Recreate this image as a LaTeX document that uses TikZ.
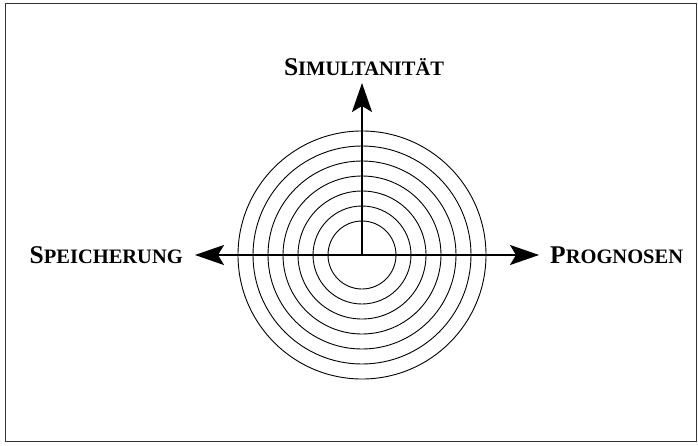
\documentclass[tikz,border=0pt]{standalone}
\usepackage{fontspec}
\setmainfont{Liberation Serif}
\usetikzlibrary{arrows.meta,positioning}
\newcommand{\capword}[2]{#1{\fontsize{20.5}{20.5}\selectfont #2}}
\tikzset{
  frame/.style={draw=black!80,line width=1pt},
  ring/.style={draw=black,line width=0.9pt},
  axisarrow/.style={-{Stealth[length=29pt,width=20pt,inset=6pt]},line width=2pt,black},
  axislabel/.style={font=\fontsize{25.5}{25.5}\selectfont\bfseries,inner sep=0pt}
}
\begin{document}
\begin{tikzpicture}[x=1pt,y=1pt]
      \useasboundingbox (0,0) rectangle (698,445);
      \draw[frame] (5.5,3.5) rectangle (696.5,441.5);
      % concentric rings
      \coordinate (centre) at (362,190);
      \foreach \r in {34,49,64,79,94,109,124}
        \draw[ring] (centre) circle (\r);
      % axes
      \coordinate (west) at (195,190);
      \coordinate (east) at (539,190);
      \coordinate (north) at (362,362);
      \draw[axisarrow] (centre) -- (west);
      \draw[axisarrow] (centre) -- (east);
      \draw[axisarrow] (centre) -- (north);
      \node[axislabel,left=12pt of west] (store) {\capword{S}{PEICHERUNG}};
      \node[axislabel,right=11pt of east] (forecast) {\capword{P}{ROGNOSEN}};
      \node[axislabel,above=7pt of north,xshift=2pt] (simul) {\capword{S}{IMULTANITÄT}};
    \end{tikzpicture}
\end{document}
